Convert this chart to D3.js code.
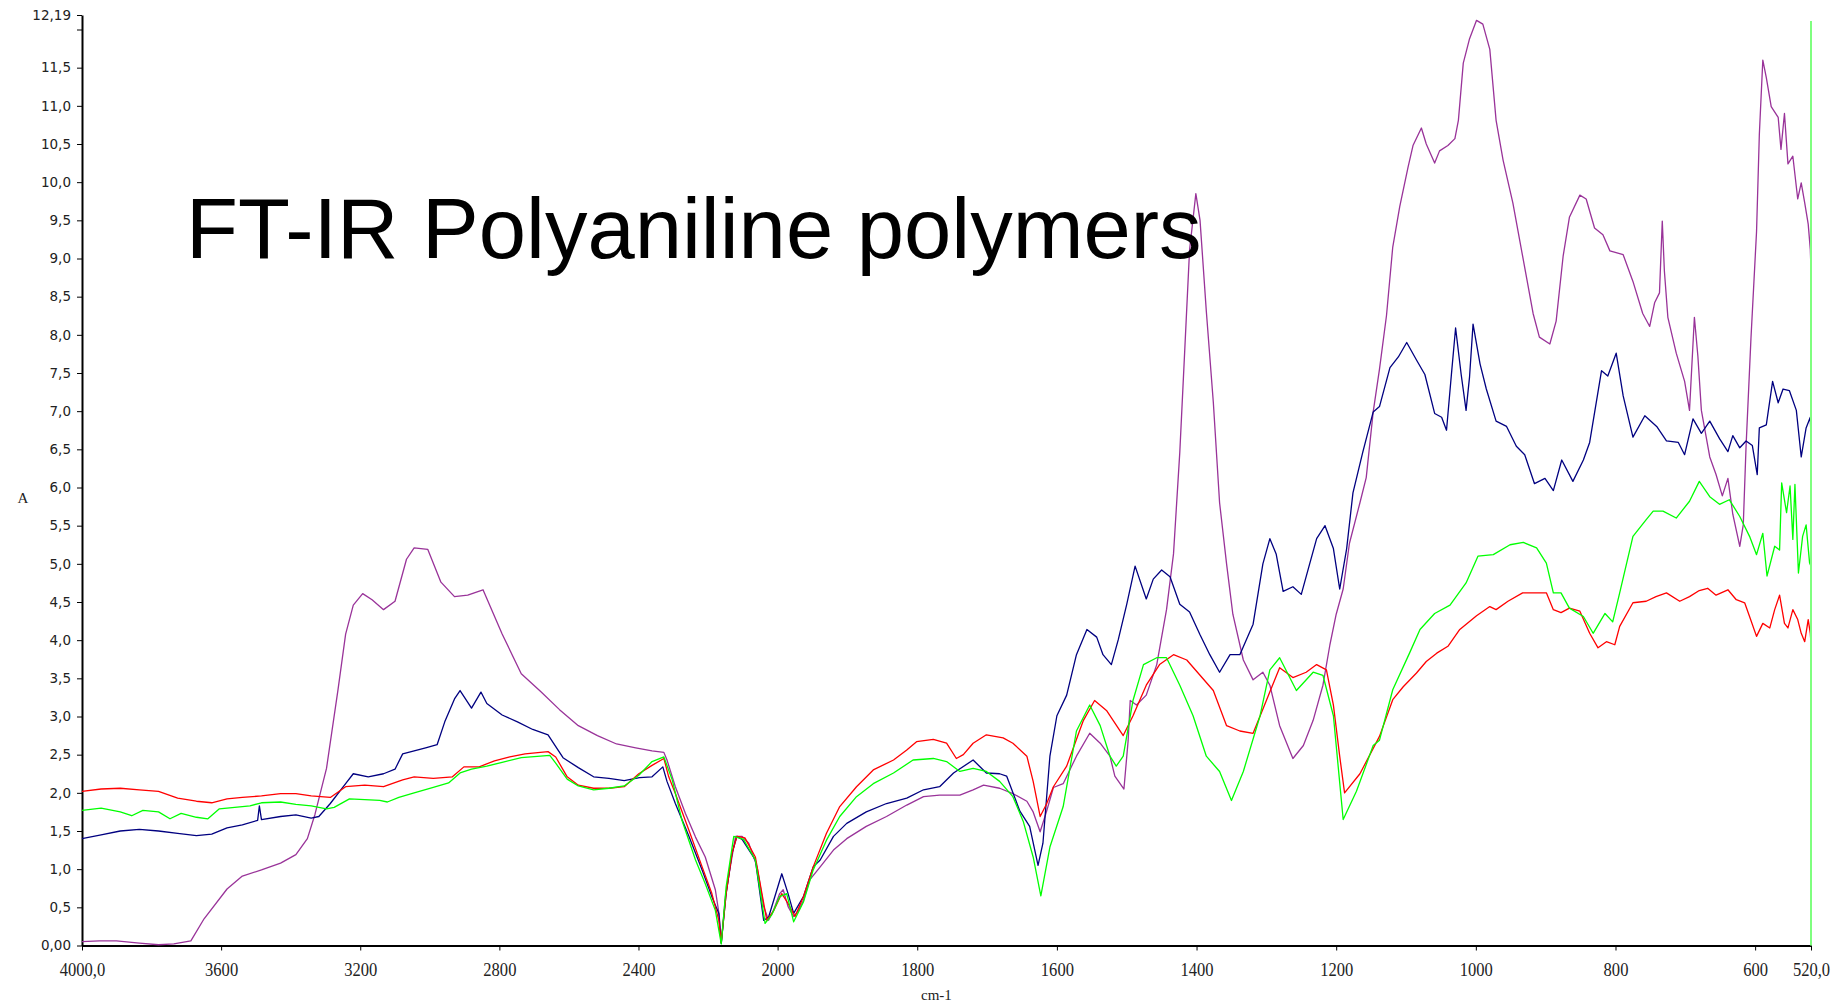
<!DOCTYPE html>
<html>
<head>
<meta charset="utf-8">
<script src="https://cdn.jsdelivr.net/npm/d3@7/dist/d3.min.js"></script>
<style>
    html, body { margin: 0; padding: 0; background: #fff; }
    svg { display: block; }
    .axis path, .axis line { stroke: #000; }
    .axis path { stroke-width: 2; }
    .y.axis text { font-family: "DejaVu Sans", Verdana, sans-serif; font-size: 13.5px; fill: #222; }
    .x.axis text { font-family: "Liberation Serif", "Times New Roman", serif; font-size: 18px; fill: #222; }
    .axis-label { font-family: "Liberation Serif", "Times New Roman", serif; font-size: 15px; fill: #222; }
    .title { font-family: "Liberation Sans", Arial, sans-serif; font-size: 85px; fill: #000; }
    .spectrum { fill: none; stroke-width: 1.3; stroke-linejoin: round; }
</style>
</head>
<body>
<svg id="graph" width="1834" height="1003"></svg>
<script>
(function(){
    'use strict';

    /*******************************************************************
     *                              DATA                               *
     *******************************************************************/

    //[wavenumber (cm-1), absorbance]
    var purpleData = [
        [4000,0.05],[3950,0.06],[3901,0.06],[3835,0.03],[3780,0.01],[3736,0.02],[3687,0.06],
        [3649,0.35],[3583,0.74],[3539,0.91],[3484,0.99],[3429,1.08],[3385,1.19],[3352,1.40],
        [3330,1.72],[3297,2.32],[3264,3.35],[3242,4.08],[3220,4.46],[3193,4.61],[3166,4.53],
        [3133,4.40],[3100,4.51],[3067,5.06],[3045,5.21],[3006,5.19],[2968,4.76],[2929,4.57],
        [2891,4.59],[2847,4.66],[2792,4.08],[2737,3.56],[2682,3.33],[2627,3.09],[2573,2.88],
        [2518,2.75],[2463,2.64],[2408,2.59],[2361,2.55],[2327,2.53],[2318,2.43],[2294,2.08],
        [2265,1.73],[2236,1.42],[2208,1.16],[2179,0.73],[2168,0.40],[2162,0.03],[2150,0.64],
        [2136,1.03],[2121,1.43],[2102,1.43],[2083,1.34],[2059,1.03],[2040,0.51],[2026,0.33],
        [2012,0.46],[1997,0.68],[1992,0.73],[1985,0.51],[1977,0.38],[1970,0.46],[1963,0.59],
        [1954,0.86],[1939,1.03],[1920,1.25],[1901,1.40],[1873,1.56],[1844,1.69],[1815,1.84],
        [1791,1.95],[1768,1.97],[1739,1.97],[1720,2.04],[1705,2.10],[1682,2.06],[1663,1.99],
        [1643,1.89],[1634,1.75],[1624,1.49],[1615,1.75],[1605,2.07],[1591,2.12],[1572,2.48],
        [1553,2.78],[1538,2.65],[1524,2.48],[1517,2.22],[1504,2.05],[1498,2.68],[1495,3.21],
        [1486,3.15],[1472,3.28],[1457,3.68],[1443,4.40],[1433,5.13],[1424,6.46],[1417,7.78],
        [1410,9.11],[1401,9.85],[1395,9.50],[1386,8.31],[1376,7.12],[1367,5.80],[1357,5.00],
        [1348,4.34],[1333,3.74],[1319,3.48],[1305,3.58],[1295,3.41],[1281,2.88],[1262,2.45],
        [1247,2.62],[1233,2.95],[1219,3.41],[1209,3.94],[1200,4.34],[1190,4.67],[1181,5.27],
        [1166,5.80],[1157,6.13],[1147,6.99],[1138,7.55],[1128,8.25],[1119,9.15],[1109,9.68],
        [1097,10.20],[1090,10.48],[1078,10.71],[1071,10.50],[1059,10.25],[1052,10.41],
        [1040,10.48],[1030,10.57],[1025,10.81],[1018,11.56],[1009,11.88],[999,12.12],
        [990,12.07],[980,11.74],[971,10.81],[961,10.29],[947,9.73],[933,9.03],[918,8.28],
        [909,7.97],[894,7.88],[885,8.18],[875,9.03],[866,9.54],[851,9.83],[842,9.78],
        [830,9.40],[818,9.31],[808,9.10],[789,9.05],[775,8.70],[761,8.28],[751,8.11],
        [744,8.42],[737,8.55],[733,9.49],[730,8.84],[725,8.23],[713,7.76],[701,7.39],
        [694,7.01],[687,8.23],[682,7.72],[677,7.01],[665,6.40],[656,6.17],[647,5.89],
        [639,6.12],[632,5.65],[622,5.23],[617,5.51],[613,6.54],[606,7.95],[598,9.35],
        [594,10.62],[589,11.60],[584,11.37],[577,10.99],[567,10.85],[563,10.43],[558,10.90],
        [553,10.24],[546,10.34],[539,9.78],[534,9.99],[529,9.73],[524,9.45],[521,9.12],[520,8.85]
    ];

    var navyData = [
        [4000,1.40],[3945,1.45],[3890,1.50],[3835,1.52],[3780,1.50],[3725,1.47],[3671,1.44],
        [3627,1.46],[3583,1.54],[3539,1.58],[3495,1.64],[3490,1.83],[3484,1.65],[3429,1.69],
        [3385,1.71],[3341,1.67],[3319,1.69],[3286,1.86],[3242,2.12],[3220,2.25],[3177,2.21],
        [3133,2.25],[3100,2.31],[3078,2.51],[3045,2.55],[3012,2.59],[2979,2.63],[2957,2.93],
        [2929,3.23],[2913,3.34],[2880,3.11],[2853,3.32],[2836,3.17],[2792,3.02],[2748,2.93],
        [2704,2.83],[2660,2.76],[2617,2.46],[2573,2.33],[2529,2.21],[2485,2.19],[2441,2.16],
        [2397,2.20],[2361,2.21],[2330,2.34],[2318,2.15],[2294,1.86],[2255,1.43],[2217,0.99],
        [2189,0.64],[2169,0.42],[2162,0.03],[2148,0.68],[2131,1.21],[2117,1.43],[2102,1.39],
        [2064,1.12],[2040,0.33],[2026,0.37],[1994,0.94],[1985,0.68],[1977,0.42],[1963,0.64],
        [1949,1.03],[1939,1.12],[1920,1.43],[1901,1.60],[1873,1.75],[1844,1.86],[1815,1.93],
        [1791,2.04],[1768,2.08],[1748,2.26],[1720,2.43],[1701,2.26],[1682,2.25],[1672,2.22],
        [1653,1.76],[1639,1.56],[1627,1.05],[1620,1.34],[1610,2.48],[1600,3.01],[1586,3.28],
        [1572,3.81],[1557,4.14],[1543,4.04],[1534,3.81],[1522,3.68],[1512,4.01],[1500,4.47],
        [1488,4.97],[1472,4.54],[1462,4.80],[1450,4.92],[1438,4.83],[1424,4.47],[1410,4.37],
        [1395,4.07],[1381,3.81],[1367,3.58],[1352,3.81],[1338,3.81],[1319,4.21],[1305,5.00],
        [1295,5.33],[1286,5.13],[1276,4.64],[1262,4.70],[1250,4.60],[1238,5.00],[1228,5.33],
        [1216,5.50],[1204,5.20],[1195,4.67],[1185,5.20],[1176,5.93],[1162,6.46],[1147,6.99],
        [1138,7.06],[1123,7.57],[1111,7.71],[1099,7.90],[1085,7.67],[1073,7.48],[1059,6.97],
        [1049,6.92],[1042,6.75],[1035,7.48],[1029,8.09],[1021,7.48],[1014,7.01],[1009,7.45],
        [1004,8.14],[994,7.62],[985,7.29],[971,6.87],[956,6.80],[942,6.54],[930,6.43],
        [916,6.05],[901,6.12],[889,5.96],[877,6.36],[861,6.08],[846,6.36],[837,6.59],
        [820,7.53],[811,7.46],[799,7.76],[789,7.20],[775,6.66],[758,6.94],[741,6.80],
        [727,6.61],[710,6.59],[701,6.43],[689,6.90],[677,6.71],[665,6.87],[651,6.64],
        [639,6.47],[632,6.68],[622,6.52],[613,6.61],[604,6.55],[597,6.17],[594,6.78],
        [584,6.82],[575,7.39],[567,7.11],[560,7.29],[551,7.27],[541,7.01],[534,6.40],
        [527,6.78],[521,6.92],[520,6.65]
    ];

    var redData = [
        [4000,2.02],[3945,2.05],[3890,2.06],[3835,2.04],[3780,2.02],[3725,1.93],[3671,1.89],
        [3627,1.87],[3583,1.92],[3539,1.94],[3484,1.96],[3429,1.99],[3385,1.99],[3341,1.96],
        [3286,1.94],[3242,2.08],[3187,2.10],[3133,2.08],[3078,2.17],[3045,2.21],[2990,2.19],
        [2935,2.21],[2902,2.34],[2858,2.34],[2814,2.42],[2770,2.47],[2726,2.51],[2660,2.54],
        [2638,2.47],[2605,2.21],[2573,2.10],[2529,2.06],[2485,2.06],[2441,2.08],[2399,2.25],
        [2361,2.36],[2327,2.45],[2313,2.21],[2294,1.99],[2255,1.51],[2217,1.03],[2189,0.68],
        [2169,0.33],[2162,0.04],[2148,0.68],[2131,1.21],[2117,1.43],[2094,1.41],[2064,1.16],
        [2045,0.68],[2031,0.33],[2012,0.45],[1994,0.68],[1985,0.55],[1975,0.38],[1963,0.64],
        [1949,1.03],[1930,1.47],[1911,1.82],[1887,2.08],[1863,2.30],[1834,2.43],[1815,2.56],
        [1801,2.67],[1777,2.70],[1758,2.65],[1744,2.45],[1734,2.50],[1720,2.65],[1701,2.76],
        [1677,2.72],[1663,2.65],[1643,2.48],[1634,2.15],[1624,1.69],[1615,1.85],[1605,2.08],
        [1586,2.35],[1562,2.95],[1546,3.21],[1529,3.08],[1505,2.75],[1491,3.01],[1472,3.41],
        [1453,3.68],[1433,3.81],[1414,3.74],[1395,3.54],[1376,3.34],[1357,2.88],[1338,2.81],
        [1319,2.78],[1300,3.21],[1281,3.64],[1262,3.51],[1243,3.58],[1228,3.68],[1214,3.61],
        [1204,3.15],[1195,2.48],[1188,2.00],[1166,2.25],[1138,2.74],[1119,3.22],[1104,3.39],
        [1085,3.57],[1071,3.72],[1056,3.83],[1040,3.92],[1023,4.14],[999,4.32],[980,4.44],
        [971,4.40],[954,4.51],[933,4.62],[913,4.62],[899,4.62],[889,4.40],[878,4.36],
        [866,4.42],[851,4.38],[837,4.09],[825,3.90],[813,3.98],[801,3.94],[794,4.18],
        [775,4.49],[756,4.51],[742,4.57],[727,4.62],[708,4.51],[694,4.57],[680,4.65],
        [668,4.68],[656,4.59],[639,4.66],[627,4.53],[615,4.49],[608,4.31],[598,4.05],
        [589,4.22],[579,4.16],[572,4.40],[565,4.59],[558,4.22],[553,4.16],[546,4.40],
        [539,4.27],[534,4.09],[529,3.98],[524,4.27],[521,4.09],[520,3.95]
    ];

    var greenData = [
        [4000,1.77],[3945,1.80],[3890,1.75],[3857,1.70],[3825,1.77],[3780,1.75],[3747,1.66],
        [3715,1.73],[3671,1.68],[3638,1.66],[3605,1.79],[3561,1.81],[3517,1.83],[3484,1.87],
        [3429,1.88],[3385,1.85],[3341,1.83],[3297,1.79],[3275,1.81],[3231,1.92],[3187,1.91],
        [3144,1.90],[3122,1.88],[3089,1.94],[3045,2.00],[2990,2.07],[2946,2.13],[2913,2.26],
        [2880,2.31],[2836,2.35],[2792,2.40],[2737,2.46],[2682,2.48],[2655,2.49],[2638,2.39],
        [2605,2.18],[2573,2.09],[2529,2.04],[2485,2.06],[2441,2.09],[2399,2.23],[2361,2.41],
        [2327,2.47],[2303,2.17],[2275,1.64],[2236,1.12],[2208,0.81],[2179,0.46],[2162,0.02],
        [2148,0.77],[2126,1.43],[2098,1.39],[2064,1.12],[2036,0.29],[2017,0.40],[1997,0.64],
        [1987,0.68],[1977,0.31],[1963,0.57],[1949,0.99],[1930,1.38],[1911,1.69],[1887,1.95],
        [1863,2.12],[1834,2.26],[1806,2.43],[1777,2.45],[1758,2.41],[1739,2.28],[1720,2.32],
        [1701,2.28],[1682,2.15],[1663,1.95],[1648,1.62],[1634,1.16],[1623,0.65],[1610,1.29],
        [1591,1.82],[1572,2.81],[1553,3.15],[1538,2.88],[1524,2.48],[1515,2.35],[1505,2.48],
        [1491,3.21],[1476,3.68],[1457,3.77],[1443,3.77],[1424,3.41],[1405,3.01],[1386,2.48],
        [1367,2.28],[1350,1.90],[1333,2.28],[1309,3.01],[1295,3.61],[1281,3.77],[1257,3.34],
        [1233,3.58],[1219,3.54],[1204,3.01],[1190,1.65],[1171,2.02],[1147,2.62],[1138,2.69],
        [1119,3.35],[1095,3.83],[1080,4.14],[1059,4.35],[1037,4.46],[1014,4.75],[997,5.10],
        [975,5.12],[951,5.25],[932,5.28],[913,5.21],[899,5.01],[889,4.62],[878,4.62],
        [866,4.42],[846,4.31],[832,4.09],[815,4.35],[804,4.24],[794,4.62],[775,5.36],
        [756,5.58],[746,5.69],[732,5.69],[713,5.60],[694,5.82],[680,6.08],[665,5.88],
        [651,5.78],[637,5.84],[622,5.62],[608,5.36],[598,5.12],[589,5.40],[583,4.84],
        [572,5.23],[565,5.18],[562,6.06],[555,5.67],[550,6.02],[546,5.32],[543,6.04],
        [538,4.88],[532,5.36],[527,5.51],[522,5.01],[520,4.97]
    ];

    var seriesColors = ['#993399', '#000080', '#ff0000', '#00ff00'];

    //Axis ticks and their printed labels
    var xTicks = [4000, 3600, 3200, 2800, 2400, 2000, 1800, 1600, 1400, 1200, 1000, 800, 600, 520];
    var xTickLabels = ['4000,0', '3600', '3200', '2800', '2400', '2000', '1800', '1600',
                       '1400', '1200', '1000', '800', '600', '520,0'];

    var yTicks = [0, 0.5, 1.0, 1.5, 2.0, 2.5, 3.0, 3.5, 4.0, 4.5, 5.0, 5.5, 6.0, 6.5,
                  7.0, 7.5, 8.0, 8.5, 9.0, 9.5, 10.0, 10.5, 11.0, 11.5, 12.0, 12.19];
    var yTickLabels = ['0,00', '0,5', '1,0', '1,5', '2,0', '2,5', '3,0', '3,5', '4,0', '4,5',
                       '5,0', '5,5', '6,0', '6,5', '7,0', '7,5', '8,0', '8,5', '9,0', '9,5',
                       '10,0', '10,5', '11,0', '11,5', '', '12,19'];

    //Plot is expanded 2x below 2000 cm-1, like the instrument software does
    var xBreaks = [4000, 2000, 520];
    var yDomain = [0, 12.19];

    var titleText = 'FT-IR Polyaniline polymers';

    /*******************************************************************
     *                             DRAWING                             *
     *******************************************************************/

    var svg = d3.select('#graph');
    var plot = { left: 82, right: 1811, top: 15, bottom: 945.5 };

    var xScale = d3.scaleLinear()
        .domain(xBreaks)
        .range([plot.left, 777.6, plot.right]);

    var yScale = d3.scaleLinear()
        .domain(yDomain)
        .range([plot.bottom, plot.top]);

    drawAxes();
    drawSpectra();
    drawLabels();

    /**
     * Left and bottom axes, labels in the instrument's comma format
     */
    function drawAxes() {
        var y = d3.axisLeft(yScale)
            .tickValues(yTicks)
            .tickSize(5)
            .tickSizeOuter(0)
            .tickPadding(6)
            .tickFormat(function(d, i) { return yTickLabels[i]; });

        svg.append('g')
            .attr('class', 'y axis')
            .attr('transform', 'translate(' + plot.left + ',0)')
            .call(y);

        var x = d3.axisBottom(xScale)
            .tickValues(xTicks)
            .tickSize(5)
            .tickSizeOuter(0)
            .tickPadding(13)
            .tickFormat(function(d, i) { return xTickLabels[i]; });

        var gx = svg.append('g')
            .attr('class', 'x axis')
            .attr('transform', 'translate(0,' + plot.bottom + ')')
            .call(x);

        //narrow, tall digits like the original
        gx.selectAll('text').attr('transform', 'scale(0.92,1)');
    }

    /**
     * One path per sample spectrum
     */
    function drawSpectra() {
        var line = d3.line()
            .x(function(d) { return xScale(d[0]); })
            .y(function(d) { return yScale(d[1]); });

        var all = [purpleData, navyData, redData, greenData];

        svg.append('g')
            .selectAll('path')
            .data(all)
            .enter()
            .append('path')
            .attr('class', 'spectrum')
            .attr('stroke', function(d, i) { return seriesColors[i]; })
            .attr('d', line);

        //cursor line sitting on the last wavenumber
        svg.append('line')
            .attr('x1', xScale(xBreaks[2]))
            .attr('x2', xScale(xBreaks[2]))
            .attr('y1', yScale(yDomain[1]) + 6)
            .attr('y2', yScale(yDomain[0]))
            .attr('stroke', '#7fff7f')
            .attr('stroke-width', 2);
    }

    /**
     * Axis names and the big title
     */
    function drawLabels() {
        svg.append('text')
            .attr('class', 'axis-label')
            .attr('x', 23)
            .attr('y', 503)
            .attr('text-anchor', 'middle')
            .text('A');

        svg.append('text')
            .attr('class', 'axis-label')
            .attr('x', 921)
            .attr('y', 1000)
            .text('cm-1');

        svg.append('text')
            .attr('class', 'title')
            .attr('x', 186)
            .attr('y', 258)
            .text(titleText);
    }
})();
</script>
</body>
</html>
